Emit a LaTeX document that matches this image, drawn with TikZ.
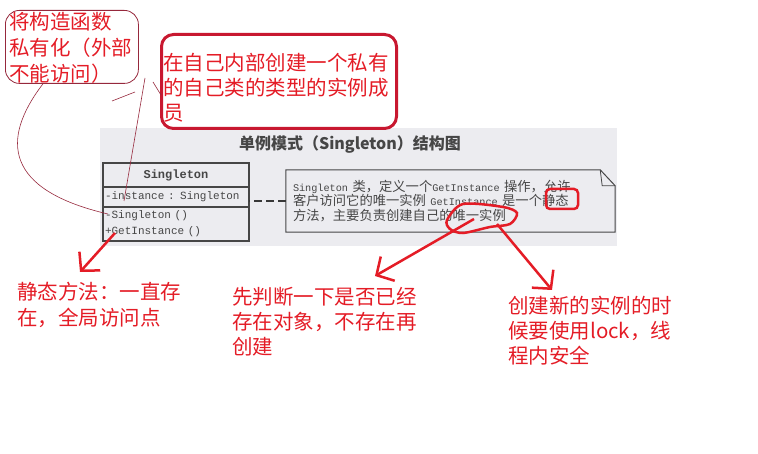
\documentclass[tikz,border=0pt]{standalone}
\usepackage{fontspec}
\usepackage{xcolor}
\usetikzlibrary{arrows.meta, positioning}
\newfontfamily\cjk{Noto Sans CJK SC}
\newfontfamily\umlmono{Liberation Mono}
\newcommand\notelatin[1]{{\umlmono\fontsize{10.2}{14.5}\selectfont #1}}
\definecolor{markred}{RGB}{228,28,38}
\definecolor{boxred}{RGB}{200,24,48}
\definecolor{thinred}{RGB}{150,40,60}
\definecolor{scangray}{RGB}{236,236,240}
\definecolor{inkgray}{RGB}{70,70,70}

\begin{document}
\begin{tikzpicture}[
    x=1pt, y=-1pt,
    redtext/.style={text=markred, font=\cjk\fontsize{20.5}{26}\selectfont, align=left, inner sep=0pt, anchor=north west},
    callout/.style={rectangle, anchor=north west, inner sep=0pt},
    umlpart/.style={draw=inkgray, line width=1.2pt, outer sep=0pt, inner xsep=2pt, text=inkgray},
    memberpart/.style={umlpart, text width=142pt, align=left, font=\umlmono\fontsize{11}{16}\selectfont},
    notetext/.style={text=inkgray, font=\cjk\fontsize{13.3}{14.5}\selectfont, align=left, inner xsep=7pt, text width=315pt, minimum height=62pt},
    thinline/.style={thinred, line width=0.6pt},
    dashlink/.style={inkgray!80!black, line width=2.6pt, dash pattern=on 8pt off 4pt},
    redarrow/.style={markred, line width=2.5pt, -{Straight Barb[length=13pt, width=28pt]}}
]
% Scanned figure
\useasboundingbox (0,0) rectangle (758,454);
\fill[scangray] (100,128) rectangle (617,246);

\node[text=inkgray, font=\cjk\bfseries\fontsize{16}{16}\selectfont] (title) at (350,145) {单例模式（Singleton）结构图};

% Class
\node[umlpart, minimum width=146pt, minimum height=24pt, font=\umlmono\bfseries\fontsize{12}{12}\selectfont] (clshead) at (176,175) {Singleton};
\node[memberpart, minimum height=20pt, below=0pt of clshead] (clsattr) {-instance : Singleton};
\node[memberpart, minimum height=34pt, below=0pt of clsattr] (clsops) {-Singleton ()\\+GetInstance ()};

% Note
\node[notetext] (note) at (450.5,201) {\notelatin{Singleton} 类，定义一个\notelatin{GetInstance} 操作，允许\\客户访问它的唯一实例 \notelatin{GetInstance} 是一个静态\\方法，主要负责创建自己的唯一实例};
\draw[inkgray, line width=1pt] (note.north west) -- ([xshift=-15pt]note.north east)
    -- ([yshift=-16pt]note.north east) -- (note.south east) -- (note.south west) -- cycle;
\draw[inkgray, line width=0.8pt] ([xshift=-15pt]note.north east) -- ([xshift=-13pt, yshift=-16pt]note.north east)
    -- ([yshift=-16pt]note.north east);
\draw[dashlink] (note.west) -- (note.west -| clsattr.east);

% Callouts
\node[callout, draw=thinred, line width=0.8pt, rounded corners=14pt, minimum width=133pt, minimum height=73pt] (ctorbox) at (5,10) {};
\node[redtext] (ctortxt) at (9,12) {将构造函数\\私有化（外部\\不能访问）};
\node[callout, draw=boxred, line width=3pt, rounded corners=12pt, minimum width=235pt, minimum height=94pt] (membox) at (160,33) {};
\node[redtext, font=\cjk\fontsize{20.5}{25}\selectfont] (memtxt) at (163,53) {在自己内部创建一个私有\\的自己类的类型的实例成\\员};

% Thin pointers
\coordinate (ctorref) at (108,214);
\coordinate (instfrom) at (145,78);
\coordinate (instref) at (124,201);
\draw[thinline] ([xshift=38pt]ctorbox.south west) .. controls (0,140) and (5,190) .. (ctorref);
\draw[thinline] (instfrom) -- (instref);
\draw[thinline] (112,101) -- (135,92);
\draw[thinline] (153,82) -- (161,95);

% Red marks
\node[draw=markred, line width=2.5pt, rounded corners=4pt, minimum width=32pt, minimum height=20pt] (statmark) at (562,199) {};
\draw[markred, line width=2.5pt] plot[smooth cycle] coordinates {(447,220) (463,204) (503,207) (517,213) (510,224) (490,227) (463,233) (450,229)};
\coordinate (uniqL) at (474,219);
\coordinate (uniqR) at (497,224);
\coordinate (getinst) at (115,233);

% Bottom notes
\node[redtext] (stattxt) at (17,282) {静态方法：一直存\\在，全局访问点};
\node[redtext, font=\cjk\fontsize{20.5}{25}\selectfont] (checktxt) at (232,287) {先判断一下是否已经\\存在对象，不存在再\\创建};
\node[redtext, font=\cjk\fontsize{20.5}{25}\selectfont] (locktxt) at (508,296) {创建新的实例的时\\候要使用lock，线\\程内安全};

% Arrows
\coordinate (stattip) at (80,272);
\coordinate (checktip) at (375,276);
\coordinate (locktip) at (552,290);
\draw[redarrow] (getinst) -- (stattip);
\draw[redarrow] (uniqL) -- (checktip);
\draw[redarrow] (uniqR) -- (locktip);
\end{tikzpicture}
\end{document}
